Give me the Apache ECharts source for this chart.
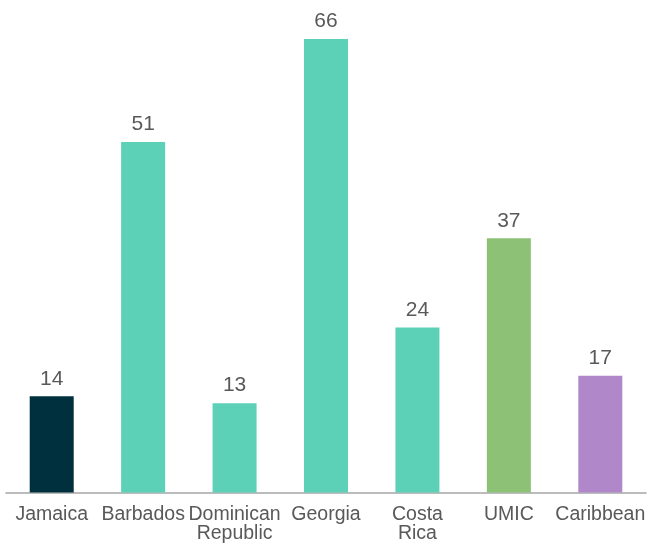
<!DOCTYPE html>
<html>
<head>
<meta charset="utf-8">
<script src="https://cdn.jsdelivr.net/npm/echarts@6/dist/echarts.min.js"></script>
<style>
  html, body { margin: 0; padding: 0; background: #ffffff; }
  #chart { width: 649px; height: 544px; }
</style>
</head>
<body>
<div id="chart"></div>
<script>
// Categories and values shown on the bars
const categories = ['Jamaica', 'Barbados', 'Dominican\nRepublic', 'Georgia', 'Costa\nRica', 'UMIC', 'Caribbean'];
const values = [14, 51, 13, 66, 24, 37, 17];

// Fill colour for each bar, in category order
const barColors = ['#002F3D', '#5DD0B8', '#5DD0B8', '#5DD0B8', '#5DD0B8', '#8CC176', '#B088C9'];

const textColor = '#595959';
const fontFamily = '"Liberation Sans", Arial, sans-serif';

const chart = echarts.init(document.getElementById('chart'), null, { renderer: 'canvas' });

chart.setOption({
  animation: false,
  backgroundColor: '#ffffff',
  grid: { left: 6, right: 3, top: 39, bottom: 51, containLabel: false },
  xAxis: {
    type: 'category',
    data: categories,
    axisTick: { show: false },
    axisLine: { show: true, lineStyle: { color: '#A6A6A6', width: 1.5 } },
    axisLabel: {
      interval: 0,
      color: textColor,
      fontSize: 19.5,
      lineHeight: 19,
      fontFamily: fontFamily,
      margin: 13
    }
  },
  yAxis: {
    type: 'value',
    min: 0,
    max: 66,
    show: false,
    splitLine: { show: false }
  },
  series: [{
    type: 'bar',
    barWidth: 44,
    data: values.map((v, i) => ({ value: v, itemStyle: { color: barColors[i] } })),
    label: {
      show: true,
      position: 'top',
      distance: 7,
      color: textColor,
      fontSize: 21,
      fontFamily: fontFamily
    }
  }]
});
</script>
</body>
</html>
